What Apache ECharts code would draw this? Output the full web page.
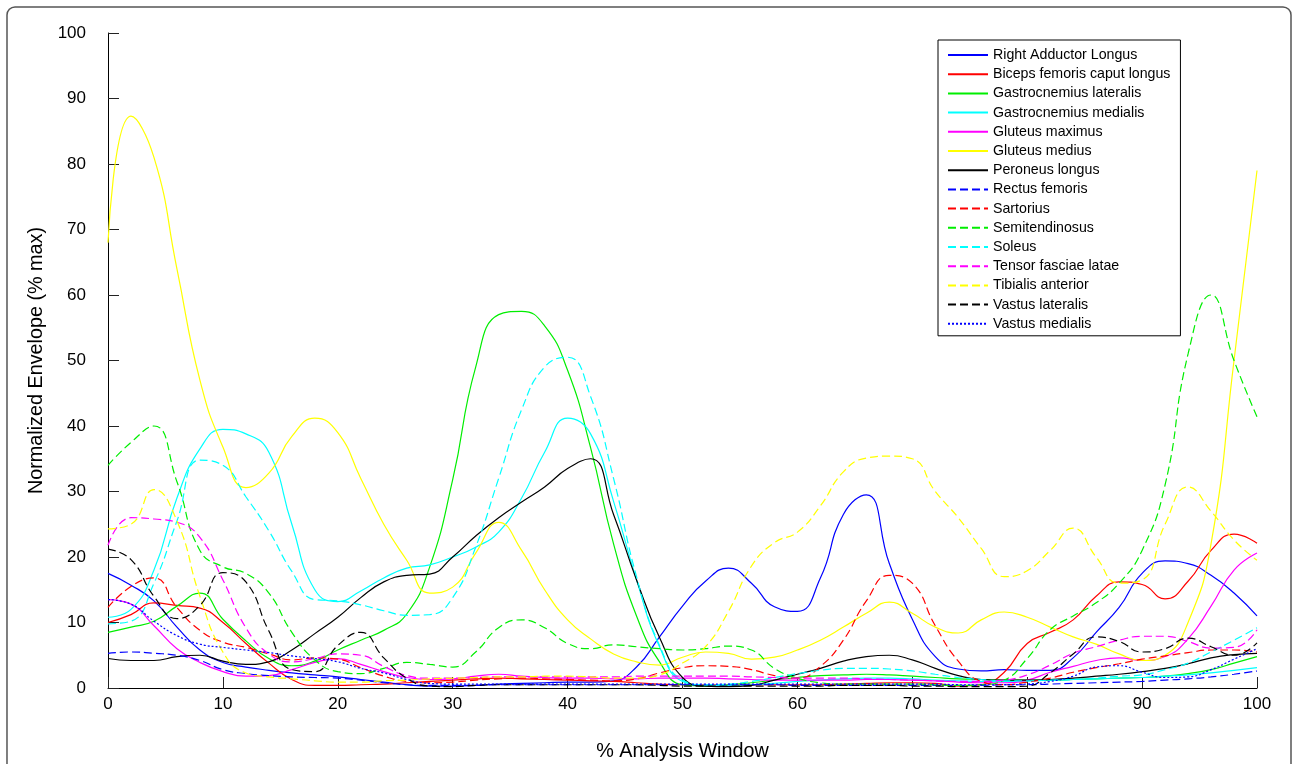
<!DOCTYPE html>
<html>
<head>
<meta charset="utf-8">
<script src="https://cdn.jsdelivr.net/npm/echarts@6/dist/echarts.min.js"></script>
<style>
html,body{margin:0;padding:0;background:#fff;}
#chart{width:1294px;height:764px;}
</style>
</head>
<body>
<div id="chart"></div>
<script>
// % Analysis Window sample positions
const xs = [0,2,4,6,8,10,12,14,16,18,20,22,24,26,28,30,32,34,36,38,40,42,44,46,48,50,52,54,56,58,60,62,64,66,68,70,72,74,76,78,80,82,84,86,88,90,92,94,96,98,100];
const yTicks = [0,10,20,30,40,50,60,70,80,90,100];
const xTicks = [0,10,20,30,40,50,60,70,80,90,100];

const rightAdductorLongus = [17.5,15.7,13.3,9.3,5.8,3.9,3.2,2.7,2.3,2.0,1.7,1.3,0.9,0.5,0.3,0.3,0.4,0.6,0.7,0.8,0.9,0.9,1.1,3.2,7.8,12.5,16.3,18.3,16.0,12.4,11.7,16.8,26.5,29.5,19.0,10.5,4.8,2.9,2.6,2.8,2.7,2.7,4.6,8.5,12.3,17.5,19.4,19.0,17.2,14.5,11.0];
const bicepsFemoris = [10,11.2,13,12.6,12.2,10,6.8,3.8,1.3,0.4,0.4,0.5,0.6,0.8,1.0,1.2,1.4,1.5,1.4,1.3,1.2,1.1,1.0,0.8,0.6,0.5,0.5,0.5,0.5,0.5,0.5,0.5,0.6,0.7,0.8,0.8,0.7,0.3,0.5,2.4,6.8,8.5,10.4,14,16.2,15.8,13.6,16.3,21,23.5,22.1];
const gastrocLateralis = [8.5,9.3,10.2,12.5,14.5,10.5,7.2,4.5,3.4,4.1,5.8,7.3,8.8,11.3,18.5,31.8,49,57,57.5,55.3,48.5,36.7,22,11,4,0.5,0.3,0.5,0.8,1.2,1.6,1.9,2.0,2.1,2.0,1.8,1.6,1.4,1.3,1.2,1.2,1.2,1.3,1.4,1.5,1.6,1.8,2.2,2.8,3.8,4.8];
const gastrocMedialis = [10.8,12,18,29,36.5,39.5,38.8,36,25,15,13.2,14.8,16.8,18.3,18.8,20,21.5,23.8,29,36,41.2,38.8,28.5,16.5,6.3,1,0.4,0.4,0.5,0.7,1,1.2,1.4,1.5,1.5,1.4,1.2,1.1,1.0,1.0,1.1,1.2,1.3,1.4,1.5,1.6,1.8,2.0,2.3,2.7,3.1];
const gluteusMaximus = [13.5,12.8,9.5,6.0,3.9,2.5,1.8,1.9,2.8,3.9,4.5,3.6,2.5,1.6,1.3,1.4,1.8,2.1,1.8,1.6,1.5,1.5,1.4,1.4,1.5,1.5,1.5,1.4,1.3,1.2,1.2,1.2,1.2,1.3,1.3,1.2,1.1,0.9,0.8,0.8,1.2,2.4,3.3,4.2,4.6,4.2,4.8,7.5,12.5,18,20.6];
const gluteusMedius = [68,87.3,81,64,47,36.8,30.6,32.8,38.4,41.2,39,32,25,19.5,14.5,15.4,20.6,25.3,21,15,10.4,7.5,5.2,4,3.5,4.7,5.5,5.3,4.4,4.7,5.8,7.3,9.3,11.4,13.1,11.4,9.3,8.4,10.4,11.6,10.8,9.3,7.8,6.7,5.2,4.2,5,10,22,50,79];
const peroneusLongus = [4.5,4.2,4.2,4.8,5.0,4.1,3.6,4.0,5.8,8.3,10.8,13.8,16.2,17.2,17.4,20,23.2,26,28.4,30.7,33.5,35,26.5,16.5,7.7,1.6,0.3,0.2,0.4,1.2,2.1,3.0,4.1,4.8,5.0,4.3,3.0,1.9,1.3,1.2,1.2,1.3,1.5,1.8,2.1,2.5,3.0,3.7,4.6,5.1,5.3];
const rectusFemoris = [5.3,5.5,5.3,5.0,4.2,2.8,2.2,1.9,1.7,1.6,1.5,1.2,0.8,0.5,0.4,0.4,0.4,0.5,0.5,0.5,0.5,0.5,0.5,0.5,0.5,0.5,0.5,0.5,0.5,0.5,0.4,0.4,0.4,0.4,0.4,0.4,0.4,0.4,0.4,0.5,0.5,0.6,0.7,0.8,0.9,1.0,1.2,1.4,1.7,2.1,2.6];
const sartorius = [12.3,15.5,16.8,12.3,8.8,7.0,6.2,5.2,4.3,4.6,4.4,3.1,1.8,1.0,0.8,0.9,1.2,1.4,1.5,1.4,1.3,1.2,1.1,1.4,2.3,3.1,3.4,3.3,2.8,1.9,1.5,3.3,7.3,13.3,17.2,16,9.5,4.1,1.0,0.5,0.9,1.5,2.4,3.1,3.7,4.4,4.9,5.4,5.8,5.8,5.5];
const semitendinosus = [34,37.5,40,31.5,21,18.5,17.5,14.5,8.5,4.3,2.5,2.2,3.0,3.9,3.6,3.2,5.5,9.2,10.4,9.2,6.8,6.0,6.6,6.3,6.0,5.8,6.0,6.4,5.8,3.0,1.5,0.8,0.6,0.6,0.6,0.6,0.5,0.4,0.5,1.2,4.5,8.9,11,13,16,21,31,51,60,50,41.4];
const soleus = [9.8,10.2,16,25.5,34.8,34,29.2,24,17.8,13.5,13.3,12.7,11.8,11.1,11.2,13.8,21.5,32,42.5,49,50.5,44.5,32,17,6.5,1.2,0.5,0.6,1.0,1.6,2.2,2.7,3.0,3.0,2.9,2.6,2.1,1.6,1.3,1.1,1.1,1.2,1.3,1.5,1.8,2.0,2.8,3.8,5.5,7.3,9.2];
const tensorFasciaeLatae = [21.8,26,25.8,25.3,23,16.5,9.2,5.2,4.0,4.5,5.2,5.0,3.3,1.9,1.5,1.5,1.6,1.7,1.7,1.7,1.7,1.7,1.7,1.8,1.8,1.8,1.8,1.8,1.7,1.6,1.5,1.5,1.5,1.4,1.3,1.2,1.1,1.0,1.0,1.2,2.0,3.5,5.3,6.3,7.3,7.9,7.9,7.1,6.1,6.2,8.9];
const tibialisAnterior = [24.3,25,30.3,25.5,14,5.5,2.3,1.7,1.4,1.1,0.9,0.9,1.1,1.2,1.4,1.5,1.6,1.7,1.7,1.8,1.8,1.7,1.5,1.5,2.0,3.8,6.3,11.7,18.6,22.2,23.8,27.8,33,35.1,35.4,35,30,26,21.3,17,17.9,21,24.4,20,16,16.5,25,30.7,27,22.6,19.5];
const vastusLateralis = [21.2,19.6,14,10.6,12.6,17.6,16.2,8.7,2.8,2.5,6.5,8.5,4.6,1.5,0.3,0.2,0.4,0.5,0.5,0.5,0.5,0.5,0.5,0.5,0.4,0.3,0.3,0.3,0.3,0.3,0.3,0.3,0.4,0.4,0.4,0.3,0.3,0.2,0.2,0.2,0.3,2.3,5.2,7.8,7.1,5.5,6.0,7.6,6.3,5.0,6.9];
const vastusMedialis = [13.5,12.8,10.2,8.0,6.7,6.2,5.8,5.4,4.9,4.5,4.0,3.0,2.3,1.3,0.7,0.6,0.6,0.6,0.6,0.6,0.6,0.6,0.6,0.6,0.6,0.6,0.6,0.6,0.6,0.6,0.6,0.6,0.6,0.6,0.6,0.6,0.6,0.5,0.5,0.5,0.6,1.0,1.8,3.2,3.4,2.4,1.6,1.7,2.8,4.4,6.0];

const seriesNames = ["Right Adductor Longus","Biceps femoris caput longus","Gastrocnemius lateralis","Gastrocnemius medialis","Gluteus maximus","Gluteus medius","Peroneus longus","Rectus femoris","Sartorius","Semitendinosus","Soleus","Tensor fasciae latae","Tibialis anterior","Vastus lateralis","Vastus medialis"];
const seriesValues = [rightAdductorLongus,bicepsFemoris,gastrocLateralis,gastrocMedialis,gluteusMaximus,gluteusMedius,peroneusLongus,rectusFemoris,sartorius,semitendinosus,soleus,tensorFasciaeLatae,tibialisAnterior,vastusLateralis,vastusMedialis];
const seriesColors = ["#0000ff","#ff0000","#00ee00","#00ffff","#ff00ff","#ffff00","#000000","#0000ff","#ff0000","#00ee00","#00ffff","#ff00ff","#ffff00","#000000","#0000ff"];
const seriesDash = ["solid","solid","solid","solid","solid","solid","solid",[8,4],[8,4],[8,4],[8,4],[8,4],[8,4],[8,4],[2,2]];

const chart = echarts.init(document.getElementById('chart'), null, {renderer:'canvas'});
const FONT = 'Liberation Sans, Arial, Helvetica, sans-serif';

const series = seriesNames.map((name, k) => ({
  name: name,
  type: 'line',
  data: xs.map((x, i) => [x, seriesValues[k][i]]),
  smooth: 0.5,
  symbol: 'none',
  showSymbol: false,
  color: seriesColors[k],
  itemStyle: {color: seriesColors[k]},
  lineStyle: {color: seriesColors[k], width: 1.2, type: seriesDash[k]},
  emphasis: {disabled: true},
  animation: false
}));

chart.setOption({
  animation: false,
  backgroundColor: '#ffffff',
  textStyle: {fontFamily: FONT},
  graphic: [{
    type: 'rect',
    z: -10,
    silent: true,
    shape: {x: 7, y: 7, width: 1284, height: 820, r: 8},
    style: {fill: 'none', stroke: '#555', lineWidth: 1.5}
  }],
  grid: {left: 108, right: 37, top: 33, bottom: 76, containLabel: false, outerBoundsMode: 'none'},
  legend: {
    orient: 'vertical',
    left: 938,
    top: 40,
    data: seriesNames,
    itemWidth: 40,
    itemHeight: 14,
    itemGap: 5.2,
    padding: [8, 10, 5, 9],
    borderColor: '#000',
    borderWidth: 1,
    backgroundColor: '#fff',
    itemStyle: {opacity: 0, borderWidth: 0},
    textStyle: {fontSize: 14.2, color: '#000', fontFamily: FONT},
    selectedMode: false
  },
  xAxis: {
    type: 'value',
    min: 0, max: 100, interval: 10,
    name: '% Analysis Window',
    nameLocation: 'middle',
    nameGap: 54,
    nameTextStyle: {fontSize: 19.8, color: '#000', fontFamily: FONT},
    axisLine: {show: true, onZero: false, lineStyle: {color: '#000', width: 1}},
    axisTick: {show: true, inside: true, length: 11, lineStyle: {color: '#222'}},
    axisLabel: {fontSize: 17, color: '#000', margin: 8, fontFamily: FONT,
      formatter: v => xTicks.includes(v) ? String(v) : ''},
    splitLine: {show: false}
  },
  yAxis: {
    type: 'value',
    min: 0, max: 100, interval: 10,
    name: 'Normalized Envelope (% max)',
    nameLocation: 'middle',
    nameGap: 61,
    nameRotate: 90,
    nameTextStyle: {fontSize: 19.8, color: '#000', fontFamily: FONT},
    axisLine: {show: true, onZero: false, lineStyle: {color: '#000', width: 1}},
    axisTick: {show: true, inside: true, length: 11, lineStyle: {color: '#222'}},
    axisLabel: {fontSize: 17, color: '#000', margin: 22, fontFamily: FONT,
      formatter: v => yTicks.includes(v) ? String(v) : ''},
    splitLine: {show: false}
  },
  series: series
});
</script>
</body>
</html>
